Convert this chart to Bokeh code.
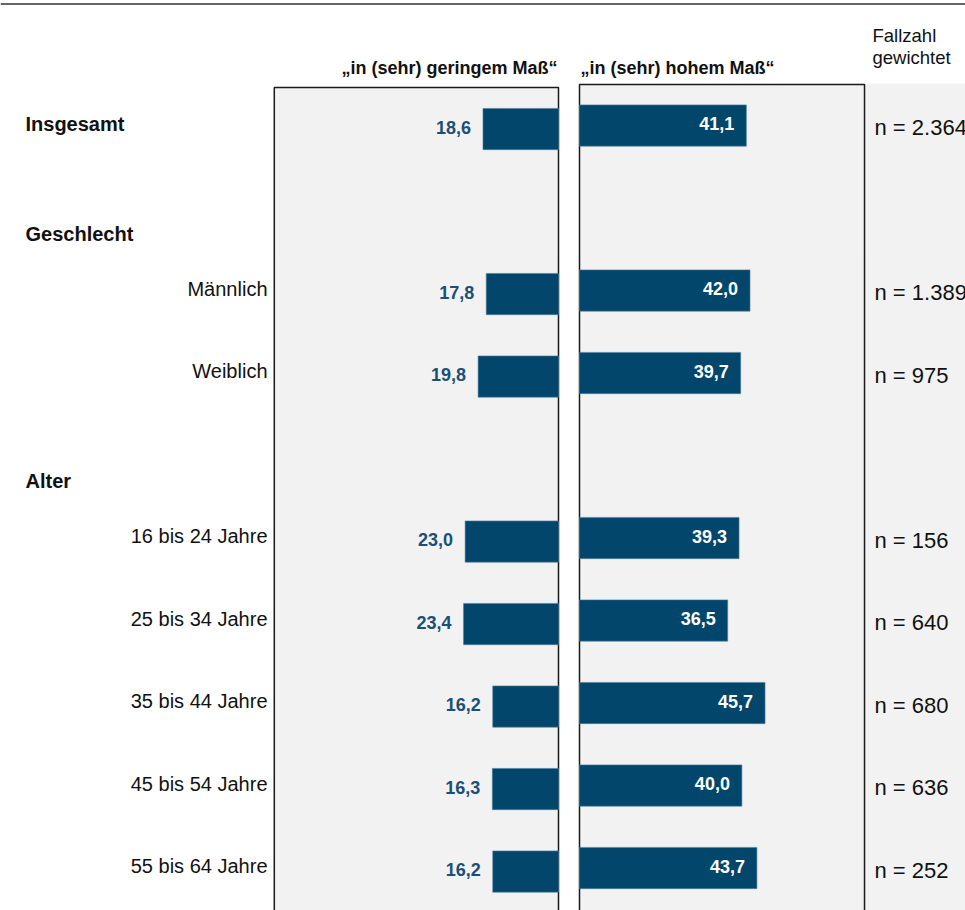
from bokeh.plotting import figure
from bokeh.models import Range1d, ColumnDataSource, Span
from bokeh.core.properties import value
from bokeh.embed import file_html
from bokeh.resources import INLINE

# ---------------- data ----------------
headers = ["Insgesamt", "Geschlecht", "Alter"]
categories = ["Insgesamt", "Männlich", "Weiblich", "16 bis 24 Jahre", "25 bis 34 Jahre",
              "35 bis 44 Jahre", "45 bis 54 Jahre", "55 bis 64 Jahre"]
low_values = [18.6, 17.8, 19.8, 23.0, 23.4, 16.2, 16.3, 16.2]    # „in (sehr) geringem Maß“
high_values = [41.1, 42.0, 39.7, 39.3, 36.5, 45.7, 40.0, 43.7]   # „in (sehr) hohem Maß“
case_numbers = ["n = 2.364", "n = 1.389", "n = 975", "n = 156", "n = 640",
                "n = 680", "n = 636", "n = 252"]
col_titles = ["„in (sehr) geringem Maß“", "„in (sehr) hohem Maß“"]
fallzahl_title = ["Fallzahl", "gewichtet"]

# ---------------- layout constants ----------------
W, H = 965, 910
K = 4.06            # pixels per percentage point
X0 = 579            # pixel of right panel zero
GAP = 21            # pixels between panels
ROW = 82.5          # pixels per row slot
Y0 = 125            # pixel of first row
PANEL = 70          # panel extent in percentage points

def px_x(px):
    return (px - X0) / K

def px_y(px):
    return (px - Y0) / ROW

L0 = -GAP / K       # zero of the left (mirrored) panel
slots = [0, 2, 3, 5, 6, 7, 8, 9]
header_slots = [px_y(123.5), px_y(233.5), px_y(480.5)]
LEFT_SHIFT = 0.043
TXT_UP = 1.8 / ROW   # small upward nudge for text

FONT = "Liberation Sans"
BAR = "#03466b"
BLUE_TXT = "#1a4f77"

p = figure(width=W, height=H, output_backend="svg", toolbar_location=None,
           x_range=Range1d(px_x(0), px_x(W)), y_range=Range1d(px_y(H), px_y(0)),
           min_border=0, outline_line_color=None, background_fill_color="white",
           border_fill_color="white")
p.axis.visible = False
p.grid.visible = False

# top rule
p.add_layout(Span(location=px_y(3.5), dimension="width", line_color="#333333", line_width=1.3))

# gray area for case numbers
p.quad(left=[px_x(864)], right=[px_x(W + 20)], top=[px_y(83)], bottom=[px_y(H + 40)],
       fill_color="#f2f2f2", line_color=None)
# panel boxes
p.quad(left=[L0 - PANEL], right=[L0], top=[px_y(87)], bottom=[px_y(H + 40)],
       fill_color="#f2f2f2", line_color="#1a1a1a", line_width=1.5)
p.quad(left=[0], right=[PANEL + 0.2], top=[px_y(84)], bottom=[px_y(H + 40)],
       fill_color="#f2f2f2", line_color="#1a1a1a", line_width=1.5)

src = ColumnDataSource(dict(
    y=slots,
    yl=[s + LEFT_SHIFT for s in slots],
    yt=[s - TXT_UP for s in slots],
    ylt=[s + LEFT_SHIFT - TXT_UP for s in slots],
    low=low_values,
    high=high_values,
    low_left=[L0 - v for v in low_values],
    low_lbl_x=[L0 - v - 12 / K for v in low_values],
    high_lbl_x=[v - 12 / K for v in high_values],
    low_txt=[f"{v:.1f}".replace(".", ",") for v in low_values],
    high_txt=[f"{v:.1f}".replace(".", ",") for v in high_values],
))

p.hbar(y="yl", left="low_left", right=L0, height=0.5, source=src,
       fill_color=BAR, line_color="#4f7fa0", line_width=0.6)
p.hbar(y="y", left=0, right="high", height=0.5, source=src,
       fill_color=BAR, line_color="#4f7fa0", line_width=0.6)

p.text(x="low_lbl_x", y="ylt", text="low_txt", source=src, text_align="right",
       text_baseline="middle", text_font=value(FONT), text_font_size="18px",
       text_font_style="bold", text_color=BLUE_TXT)
p.text(x="high_lbl_x", y="yt", text="high_txt", source=src, text_align="right",
       text_baseline="middle", text_font=value(FONT), text_font_size="18px",
       text_font_style="bold", text_color="white")

# category labels (Insgesamt is shown as a header)
sub = ColumnDataSource(dict(x=[px_x(267)] * 7, y=[s - TXT_UP for s in slots[1:]], t=categories[1:]))
p.text(x="x", y="y", text="t", source=sub, text_align="right", text_baseline="middle",
       text_font=value(FONT), text_font_size="20px", text_color="#111111")

hdr = ColumnDataSource(dict(x=[px_x(25)] * 3, y=header_slots, t=headers))
p.text(x="x", y="y", text="t", source=hdr, text_align="left", text_baseline="middle",
       text_font=value(FONT), text_font_size="20px", text_font_style="bold", text_color="#111111")

ncs = ColumnDataSource(dict(x=[px_x(874)] * 8, y=[s + 0.05 - TXT_UP for s in slots], t=case_numbers))
p.text(x="x", y="y", text="t", source=ncs, text_align="left", text_baseline="middle",
       text_font=value(FONT), text_font_size="22px", text_color="#111111")

# column titles
p.text(x=[px_x(557)], y=[px_y(67.5)], text=[col_titles[0]], text_align="right",
       text_baseline="middle", text_font=value(FONT), text_font_size="18px",
       text_font_style="bold", text_color="#111111")
p.text(x=[px_x(580)], y=[px_y(67.5)], text=[col_titles[1]], text_align="left",
       text_baseline="middle", text_font=value(FONT), text_font_size="18px",
       text_font_style="bold", text_color="#111111")
p.text(x=[px_x(872)] * 2, y=[px_y(35), px_y(57)], text=fallzahl_title, text_align="left",
       text_baseline="middle", text_font=value(FONT), text_font_size="18.5px",
       text_color="#111111")

open("out.html", "w").write(file_html(p, INLINE))
